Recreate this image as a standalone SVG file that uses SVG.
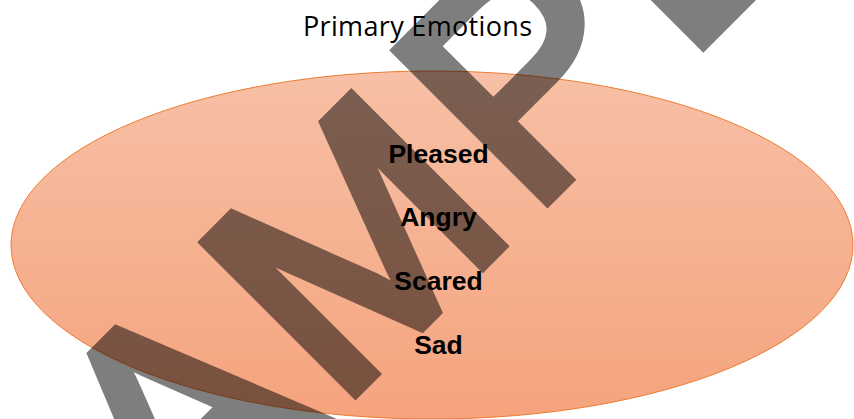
<svg xmlns="http://www.w3.org/2000/svg" width="854" height="419" viewBox="0 0 854 419">
  <defs>
    <linearGradient id="orangeFill" x1="0" y1="0" x2="0" y2="1">
      <stop offset="0" stop-color="#F7C0A6"/>
      <stop offset="1" stop-color="#F5A37D"/>
    </linearGradient>
    <style>
      .title { font-family: "Open Sans", "Liberation Sans", sans-serif; font-size: 27px; fill: #000; }
      .label { font-family: "Liberation Sans", Arial, sans-serif; font-size: 26.5px; font-weight: bold; fill: #000; text-anchor: middle; }
      .watermark { font-family: "Liberation Sans", Arial, sans-serif; font-size: 308px; letter-spacing: 15px; fill: #000; stroke: #000; stroke-width: 12px; stroke-linejoin: miter; }
    </style>
  </defs>
  <rect width="854" height="419" fill="#FFFFFF"/>
  <g id="emotions-ellipse">
    <ellipse cx="432" cy="245" rx="421" ry="174" fill="url(#orangeFill)" stroke="#ED7D31" stroke-width="1"/>
  </g>
  <g id="watermark" opacity="0.5">
    <text class="watermark" transform="translate(378,378) rotate(-45)" x="-492" y="-6">SAMPLE</text>
  </g>
  <g id="title">
    <text class="title" x="303" y="36" textLength="229" lengthAdjust="spacing">Primary Emotions</text>
  </g>
  <g id="labels">
    <text class="label" x="438.5" y="163">Pleased</text>
    <text class="label" x="438.5" y="226">Angry</text>
    <text class="label" x="438.5" y="290">Scared</text>
    <text class="label" x="438.5" y="354">Sad</text>
  </g>
  <g id="connectors"/>
</svg>
